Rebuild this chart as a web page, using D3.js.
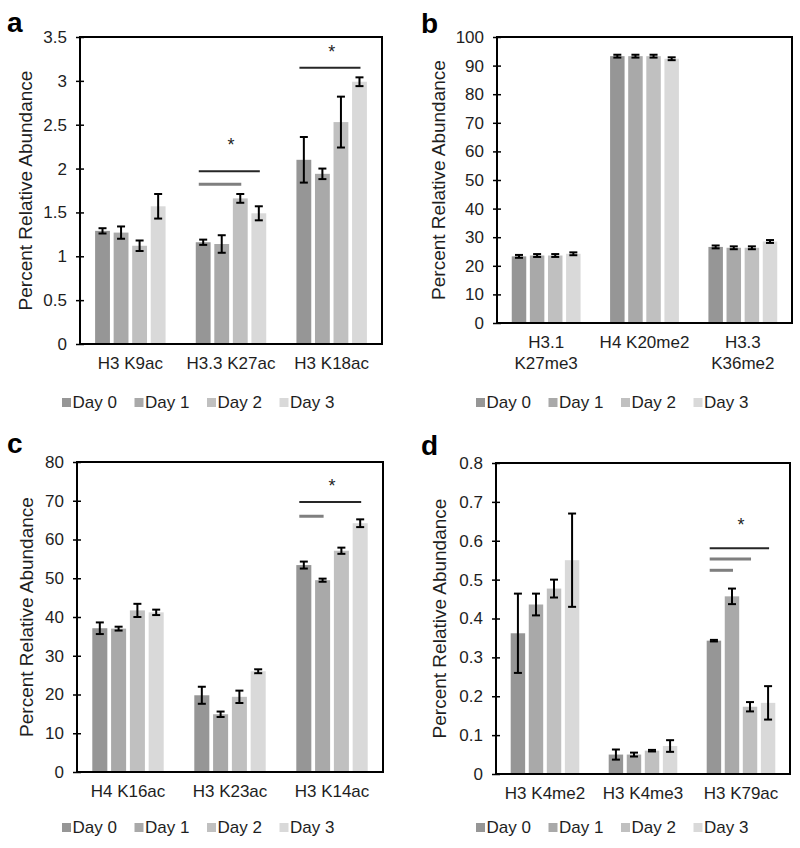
<!DOCTYPE html>
<html>
<head>
<meta charset="utf-8">
<script src="https://cdn.jsdelivr.net/npm/d3@7"></script>
<style>
  html, body { margin: 0; padding: 0; background: #fff; }
  svg { display: block; font-family: "Liberation Sans", Arial, sans-serif; }
</style>
</head>
<body>
<svg id="chart" width="800" height="848"></svg>
<script>
// ---------------- data ----------------
const days = ["Day 0", "Day 1", "Day 2", "Day 3"];
const dayColors = ["#969696", "#a9a9a9", "#c0c0c0", "#d9d9d9"];

// panel a
const aCategories = ["H3 K9ac", "H3.3 K27ac", "H3 K18ac"];
const aMeans  = [[1.29, 1.27, 1.12, 1.57], [1.16, 1.14, 1.66, 1.49], [2.10, 1.94, 2.53, 2.99]];
const aErrors = [[0.03, 0.07, 0.06, 0.14], [0.03, 0.10, 0.05, 0.08], [0.26, 0.06, 0.29, 0.05]];
const aTicks = [0, 0.5, 1, 1.5, 2, 2.5, 3, 3.5];
const aTickLabels = ["0", "0.5", "1", "1.5", "2", "2.5", "3", "3.5"];
const aSigLines = [
  {group: 1, to: 3, value: 1.97, tone: "dark"},
  {group: 1, to: 2, value: 1.82, tone: "gray"},
  {group: 2, to: 3, value: 3.15, tone: "dark"}
];
const aStars = [{group: 1, value: 2.30}, {group: 2, value: 3.36}];

// panel b
const bCategories = ["H3.1\nK27me3", "H4 K20me2", "H3.3\nK36me2"];
const bMeans  = [[23.3, 23.6, 23.6, 24.2], [93.3, 93.3, 93.3, 92.4], [26.6, 26.3, 26.3, 28.5]];
const bErrors = [[0.5, 0.5, 0.5, 0.5], [0.5, 0.5, 0.5, 0.5], [0.5, 0.5, 0.5, 0.5]];
const bTicks = [0, 10, 20, 30, 40, 50, 60, 70, 80, 90, 100];
const bTickLabels = ["0", "10", "20", "30", "40", "50", "60", "70", "80", "90", "100"];
const bSigLines = [];
const bStars = [];

// panel c
const cCategories = ["H4 K16ac", "H3 K23ac", "H3 K14ac"];
const cMeans  = [[37.1, 37.0, 41.7, 41.2], [19.8, 14.9, 19.4, 26.0], [53.4, 49.5, 57.1, 64.2]];
const cErrors = [[1.5, 0.5, 1.7, 0.7], [2.2, 0.7, 1.6, 0.5], [0.9, 0.4, 0.8, 1.0]];
const cTicks = [0, 10, 20, 30, 40, 50, 60, 70, 80];
const cTickLabels = ["0", "10", "20", "30", "40", "50", "60", "70", "80"];
const cSigLines = [
  {group: 2, to: 3, value: 69.7, tone: "dark"},
  {group: 2, to: 1, value: 66.0, tone: "gray"}
];
const cStars = [{group: 2, value: 74.6}];

// panel d
const dCategories = ["H3 K4me2", "H3 K4me3", "H3 K79ac"];
const dMeans  = [[0.362, 0.436, 0.477, 0.550], [0.050, 0.050, 0.060, 0.072], [0.343, 0.457, 0.173, 0.183]];
const dErrors = [[0.102, 0.028, 0.023, 0.120], [0.013, 0.005, 0.002, 0.015], [0.002, 0.020, 0.012, 0.043]];
const dTicks = [0, 0.1, 0.2, 0.3, 0.4, 0.5, 0.6, 0.7, 0.8];
const dTickLabels = ["0", "0.1", "0.2", "0.3", "0.4", "0.5", "0.6", "0.7", "0.8"];
const dSigLines = [
  {group: 2, to: 3, value: 0.581, tone: "dark"},
  {group: 2, to: 2, value: 0.553, tone: "gray"},
  {group: 2, to: 1, value: 0.524, tone: "gray"}
];
const dStars = [{group: 2, value: 0.647}];

const yTitle = "Percent Relative Abundance";

// ---------------- layout ----------------
const panels = [
  {letter: "a", lx: 7, ly: 32, x0: 80, x1: 382, y0: 37, y1: 344, titleX: 25, legX: 62, legY: 408,
   cats: aCategories, means: aMeans, errs: aErrors, ticks: aTicks, tickLabels: aTickLabels, sig: aSigLines, stars: aStars},
  {letter: "b", lx: 421, ly: 33, x0: 497, x1: 792, y0: 37, y1: 323, titleX: 438, legX: 476, legY: 408,
   cats: bCategories, means: bMeans, errs: bErrors, ticks: bTicks, tickLabels: bTickLabels, sig: bSigLines, stars: bStars},
  {letter: "c", lx: 7, ly: 453, x0: 77, x1: 383, y0: 462, y1: 772, titleX: 26, legX: 62, legY: 833,
   cats: cCategories, means: cMeans, errs: cErrors, ticks: cTicks, tickLabels: cTickLabels, sig: cSigLines, stars: cStars},
  {letter: "d", lx: 421, ly: 455, x0: 496, x1: 790, y0: 463, y1: 774, titleX: 439, legX: 476, legY: 833,
   cats: dCategories, means: dMeans, errs: dErrors, ticks: dTicks, tickLabels: dTickLabels, sig: dSigLines, stars: dStars}
];

const svg = d3.select("#chart");
const textColor = "#1e1e1e";

panels.forEach(p => {
  const g = svg.append("g");
  const domainMax = p.ticks[p.ticks.length - 1];

  const x0 = d3.scaleBand().domain(d3.range(p.cats.length)).range([p.x0, p.x1]).padding(0);
  const bw = x0.bandwidth();
  const x1 = d3.scaleBand().domain(d3.range(days.length))
    .range([bw * 0.15, bw * 0.85]).paddingInner(0.2).paddingOuter(0);
  const y = d3.scaleLinear().domain([0, domainMax]).range([p.y1, p.y0]);

  // panel letter
  g.append("text").attr("x", p.lx).attr("y", p.ly)
    .attr("font-size", 28).attr("font-weight", "bold").attr("fill", "#000")
    .text(p.letter);

  // bars
  const rows = [];
  p.means.forEach((arr, gi) => arr.forEach((m, di) => rows.push({gi, di, m, e: p.errs[gi][di]})));

  g.append("g").selectAll("rect").data(rows).join("rect")
    .attr("x", d => x0(d.gi) + x1(d.di))
    .attr("y", d => y(d.m))
    .attr("width", x1.bandwidth())
    .attr("height", d => y(0) - y(d.m))
    .attr("fill", d => dayColors[d.di]);

  // error bars
  const eg = g.append("g").attr("stroke", "#000").attr("stroke-width", 2).attr("fill", "none");
  rows.forEach(d => {
    const cx = x0(d.gi) + x1(d.di) + x1.bandwidth() / 2;
    const yt = y(d.m + d.e), yb = y(d.m - d.e);
    eg.append("line").attr("x1", cx).attr("x2", cx).attr("y1", yt).attr("y2", yb);
    eg.append("line").attr("x1", cx - 4).attr("x2", cx + 4).attr("y1", yt).attr("y2", yt);
    eg.append("line").attr("x1", cx - 4).attr("x2", cx + 4).attr("y1", yb).attr("y2", yb);
  });

  // significance lines
  p.sig.forEach(s => {
    const xs = x0(s.group) + x1(0) + 3;
    const xe = x0(s.group) + x1(s.to) + x1.bandwidth() / 2 + 1;
    g.append("line").attr("x1", xs).attr("x2", xe).attr("y1", y(s.value)).attr("y2", y(s.value))
      .attr("stroke", s.tone === "dark" ? "#262626" : "#7f7f7f")
      .attr("stroke-width", s.tone === "dark" ? 2 : 3);
  });
  p.stars.forEach(s => {
    g.append("text").attr("x", x0(s.group) + bw / 2).attr("y", y(s.value) + 9)
      .attr("text-anchor", "middle").attr("font-size", 18).attr("fill", textColor).text("*");
  });

  // y axis
  const yAxis = d3.axisLeft(y).tickValues(p.ticks)
    .tickFormat((d, i) => p.tickLabels[i]).tickSize(4).tickPadding(9);
  const ya = g.append("g").attr("transform", `translate(${p.x0},0)`).call(yAxis);
  ya.select(".domain").remove();
  ya.selectAll(".tick line").attr("x1", 4).attr("x2", -4).attr("stroke", "#000").attr("stroke-width", 1.5);
  ya.selectAll(".tick text").attr("font-size", 17).attr("fill", textColor).attr("font-family", null);

  // x axis (category labels)
  const xAxis = d3.axisBottom(x0).tickSize(0).tickPadding(13).tickFormat(() => "");
  const xa = g.append("g").attr("transform", `translate(0,${p.y1})`).call(xAxis);
  xa.select(".domain").remove();
  xa.selectAll(".tick text").each(function(d) {
    const t = d3.select(this).attr("font-size", 17).attr("fill", textColor)
      .attr("font-family", null).attr("dy", null);
    const lines = p.cats[d].split("\n");
    lines.forEach((ln, i) => {
      t.append("tspan").attr("x", 0).attr("dy", i === 0 ? "0.71em" : "1.22em").text(ln);
    });
  });

  // frame
  g.append("rect").attr("x", p.x0).attr("y", p.y0)
    .attr("width", p.x1 - p.x0).attr("height", p.y1 - p.y0)
    .attr("fill", "none").attr("stroke", "#000").attr("stroke-width", 2);

  // y title
  g.append("text")
    .attr("transform", `translate(${p.titleX},${(p.y0 + p.y1) / 2}) rotate(-90)`)
    .attr("text-anchor", "middle").attr("dominant-baseline", "central")
    .attr("font-size", 19).attr("fill", textColor).text(yTitle);

  // legend
  const leg = g.append("g").attr("transform", `translate(${p.legX},${p.legY})`);
  days.forEach((dname, i) => {
    const item = leg.append("g").attr("transform", `translate(${i * 72.5},0)`);
    item.append("rect").attr("x", 0).attr("y", -10).attr("width", 9).attr("height", 9).attr("fill", dayColors[i]);
    item.append("text").attr("x", 10.5).attr("y", 0).attr("font-size", 17).attr("fill", textColor).text(dname);
  });
});
</script>
</body>
</html>
